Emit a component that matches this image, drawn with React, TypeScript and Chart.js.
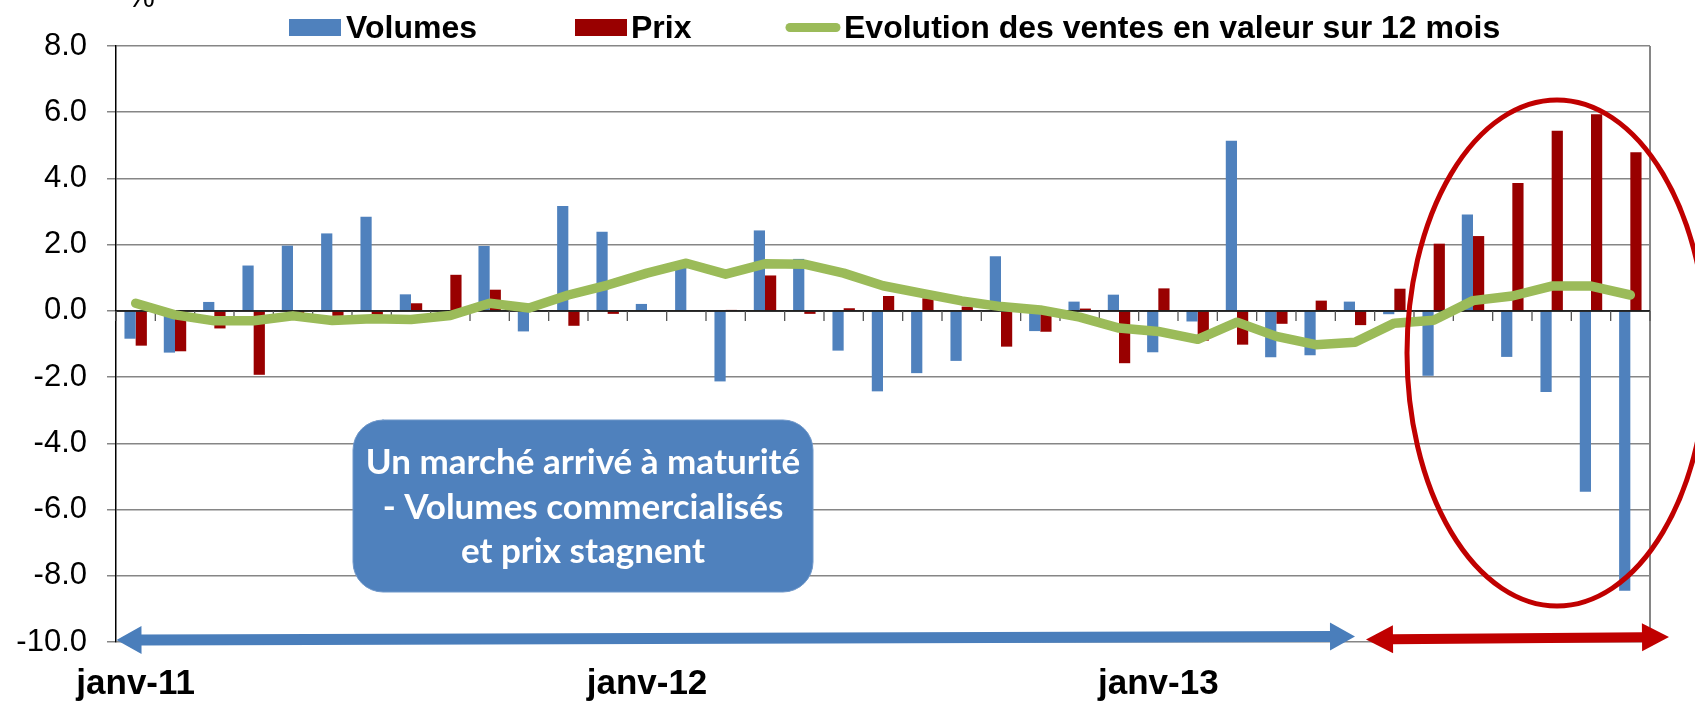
import React, { useEffect, useRef } from "react";
import { Chart, registerables } from "chart.js";

Chart.register(...registerables);

// ---------- data ----------
const categories = [
  "m01", "m02", "m03", "m04", "m05", "m06", "m07", "m08", "m09", "m10",
  "m11", "m12", "m13", "m14", "m15", "m16", "m17", "m18", "m19", "m20",
  "m21", "m22", "m23", "m24", "m25", "m26", "m27", "m28", "m29", "m30",
  "m31", "m32", "m33", "m34", "m35", "m36", "m37", "m38", "m39",
];
const xTickLabels = ["janv-11", "janv-12", "janv-13"];
const xTickPositions = [0, 13, 26];

const volumes = [
  -0.84, -1.26, 0.27, 1.37, 1.97, 2.34, 2.84, 0.5, 0.0, 1.96,
  -0.62, 3.17, 2.39, 0.21, 1.35, -2.13, 2.43, 1.57, -1.2, -2.43,
  -1.88, -1.51, 1.65, -0.61, 0.28, 0.49, -1.25, -0.32, 5.14, -1.4,
  -1.34, 0.28, -0.1, -1.96, 2.91, -1.39, -2.45, -5.46, -8.45,
];
const prix = [
  -1.05, -1.22, -0.53, -1.93, -0.07, -0.15, -0.12, 0.23, 1.09, 0.64,
  0.02, -0.45, -0.09, 0.0, 0.0, 0.03, 1.07, -0.09, 0.08, 0.45,
  0.38, 0.13, -1.08, -0.63, 0.07, -1.58, 0.68, -0.9, -1.02, -0.39,
  0.31, -0.43, 0.67, 2.03, 2.26, 3.86, 5.44, 5.94, 4.79,
];
const valeur = [
  0.23, -0.12, -0.3, -0.3, -0.15, -0.29, -0.24, -0.26, -0.14, 0.23,
  0.09, 0.48, 0.78, 1.14, 1.44, 1.11, 1.42, 1.41, 1.14, 0.76,
  0.53, 0.3, 0.13, 0.03, -0.19, -0.52, -0.62, -0.86, -0.34, -0.77,
  -1.02, -0.95, -0.37, -0.28, 0.31, 0.45, 0.75, 0.75, 0.48,
];
const seriesNames = ["Volumes", "Prix", "Evolution des ventes en valeur sur 12 mois"];
const yMin = -10;
const yMax = 8;
const yStep = 2;
const unitLabel = "%";
const boxLines = ["Un marché arrivé à maturité", "- Volumes commercialisés", "et prix stagnent"];

// ---------- styles ----------
const BLUE = "#4F81BD";
const RED = "#990000";
const GREEN = "#9BBB59";
const ANNOT_RED = "#C00000";
const GRID = "#868686";
const FONT = "'Liberation Sans', Arial, Helvetica, sans-serif";
const BOX_FONT = "Lato, 'Open Sans', 'Liberation Sans', sans-serif";

function doubleArrow(
  ctx: CanvasRenderingContext2D,
  x1: number, y1: number, x2: number, y2: number,
  headLen: number, headHalf: number, shaftHalf: number, color: string
) {
  const dx = x2 - x1, dy = y2 - y1;
  const L = Math.hypot(dx, dy);
  const ux = dx / L, uy = dy / L, nx = -uy, ny = ux;
  const p = (t: number, s: number): [number, number] => [x1 + ux * t + nx * s, y1 + uy * t + ny * s];
  const pts = [
    p(0, 0), p(headLen, headHalf), p(headLen, shaftHalf), p(L - headLen, shaftHalf),
    p(L - headLen, headHalf), p(L, 0), p(L - headLen, -headHalf), p(L - headLen, -shaftHalf),
    p(headLen, -shaftHalf), p(headLen, -headHalf),
  ];
  ctx.beginPath();
  ctx.moveTo(pts[0][0], pts[0][1]);
  for (let i = 1; i < pts.length; i++) ctx.lineTo(pts[i][0], pts[i][1]);
  ctx.closePath();
  ctx.fillStyle = color;
  ctx.fill();
}

const overlayPlugin = {
  id: "overlay",
  beforeDatasetsDraw(chart: any) {
    const { ctx, chartArea: a } = chart;
    ctx.save();
    ctx.strokeStyle = GRID;
    ctx.lineWidth = 2;
    ctx.beginPath();
    ctx.moveTo(a.right, a.top);
    ctx.lineTo(a.right, a.bottom);
    ctx.stroke();
    ctx.restore();
  },
  beforeDatasetDraw(chart: any, args: any) {
    if (args.index !== 2) return;
    const { ctx, chartArea: a, scales } = chart;
    const x = scales.x, y = scales.y;
    const y0 = y.getPixelForValue(0);
    ctx.save();
    ctx.strokeStyle = "#000";
    ctx.lineWidth = 1.5;
    ctx.beginPath();
    ctx.moveTo(a.left, y0);
    ctx.lineTo(a.right, y0);
    ctx.stroke();
    const n = chart.data.labels.length;
    ctx.strokeStyle = "#555";
    ctx.lineWidth = 1.3;
    for (let i = 0; i <= n; i++) {
      const px = i === 0 ? a.left : i === n ? a.right : (x.getPixelForValue(i - 1) + x.getPixelForValue(i)) / 2;
      ctx.beginPath();
      ctx.moveTo(px, y0);
      ctx.lineTo(px, y0 + 10);
      ctx.stroke();
    }
    ctx.restore();
  },
  afterDraw(chart: any) {
    const { ctx } = chart;
    ctx.save();

    // unit label
    ctx.fillStyle = "#000";
    ctx.font = `31px ${FONT}`;
    ctx.textAlign = "center";
    ctx.textBaseline = "alphabetic";
    ctx.fillText(unitLabel, 141, 7);

    // legend
    ctx.font = `bold 32px ${FONT}`;
    ctx.textAlign = "left";
    ctx.fillStyle = BLUE;
    ctx.fillRect(289, 19, 52, 17);
    ctx.fillStyle = "#000";
    ctx.fillText(seriesNames[0], 346, 38);
    ctx.fillStyle = RED;
    ctx.fillRect(575, 19, 52, 17);
    ctx.fillStyle = "#000";
    ctx.fillText(seriesNames[1], 631, 38);
    ctx.strokeStyle = GREEN;
    ctx.lineWidth = 9;
    ctx.lineCap = "round";
    ctx.beginPath();
    ctx.moveTo(790, 27.5);
    ctx.lineTo(836, 27.5);
    ctx.stroke();
    ctx.fillStyle = "#000";
    ctx.fillText(seriesNames[2], 844, 38);

    // text box
    ctx.beginPath();
    (ctx as any).roundRect(353, 420, 460, 172, 30);
    ctx.fillStyle = BLUE;
    ctx.fill();
    ctx.lineWidth = 1;
    ctx.strokeStyle = "#6f97c9";
    ctx.stroke();
    ctx.fillStyle = "#fff";
    ctx.font = `bold 35px ${BOX_FONT}`;
    ctx.textAlign = "center";
    ctx.fillText(boxLines[0], 583, 474);
    ctx.fillText(boxLines[1], 583, 519);
    ctx.fillText(boxLines[2], 583, 563);

    // ellipse
    ctx.beginPath();
    ctx.ellipse(1557, 353, 150, 253, 0, 0, Math.PI * 2);
    ctx.strokeStyle = ANNOT_RED;
    ctx.lineWidth = 5;
    ctx.stroke();

    // arrows
    doubleArrow(ctx, 116.5, 640, 1355, 636.5, 25, 14, 5.5, "#4A7EBB");
    doubleArrow(ctx, 1366, 639.5, 1669, 637, 27, 14, 5, ANNOT_RED);

    ctx.restore();
  },
};

export default function App() {
  const ref = useRef<HTMLCanvasElement>(null);

  useEffect(() => {
    const canvas = ref.current!;
    const chart = new Chart(canvas, {
      type: "bar",
      data: {
        labels: categories,
        datasets: [
          {
            type: "bar",
            label: seriesNames[0],
            data: volumes,
            backgroundColor: BLUE,
            borderWidth: 0,
            order: 1,
            categoryPercentage: 0.57,
            barPercentage: 1.0,
          },
          {
            type: "bar",
            label: seriesNames[1],
            data: prix,
            backgroundColor: RED,
            borderWidth: 0,
            order: 1,
            categoryPercentage: 0.57,
            barPercentage: 1.0,
          },
          {
            type: "line",
            label: seriesNames[2],
            data: valeur,
            borderColor: GREEN,
            backgroundColor: GREEN,
            borderWidth: 9.5,
            pointRadius: 0,
            tension: 0,
            borderCapStyle: "round",
            borderJoinStyle: "round",
            order: 0,
          } as any,
        ],
      },
      options: {
        responsive: false,
        animation: false,
        devicePixelRatio: 1,
        layout: { padding: { top: 46, right: 45, left: 0, bottom: 0 } },
        plugins: {
          legend: { display: false },
          tooltip: { enabled: false },
        },
        scales: {
          x: {
            type: "category",
            position: "bottom",
            offset: true,
            grid: { display: false, drawTicks: false },
            border: { display: false },
            ticks: {
              autoSkip: false,
              maxRotation: 0,
              minRotation: 0,
              padding: 21,
              color: "#000",
              font: { family: FONT, size: 35, weight: "bold" },
              callback: (_v: any, idx: number) => {
                const k = xTickPositions.indexOf(idx);
                return k >= 0 ? xTickLabels[k] : "";
              },
            },
            afterFit: (s: any) => {
              s.height = 64;
            },
          },
          y: {
            min: yMin,
            max: yMax,
            grid: { color: GRID, lineWidth: 1.5, tickLength: 9, drawTicks: true },
            border: { display: true, color: "#000", width: 1.5 },
            ticks: {
              stepSize: yStep,
              padding: 20,
              color: "#000",
              font: { family: FONT, size: 31 },
              callback: (v: any) => Number(v).toFixed(1),
            },
            afterFit: (s: any) => {
              s.width = 116;
            },
          },
        },
      } as any,
      plugins: [overlayPlugin],
    });
    return () => chart.destroy();
  }, []);

  return (
    <div style={{ position: "absolute", left: 0, top: 0, width: 1695, height: 706, background: "#fff" }}>
      <canvas ref={ref} width={1695} height={706} style={{ display: "block", width: 1695, height: 706 }} />
    </div>
  );
}
